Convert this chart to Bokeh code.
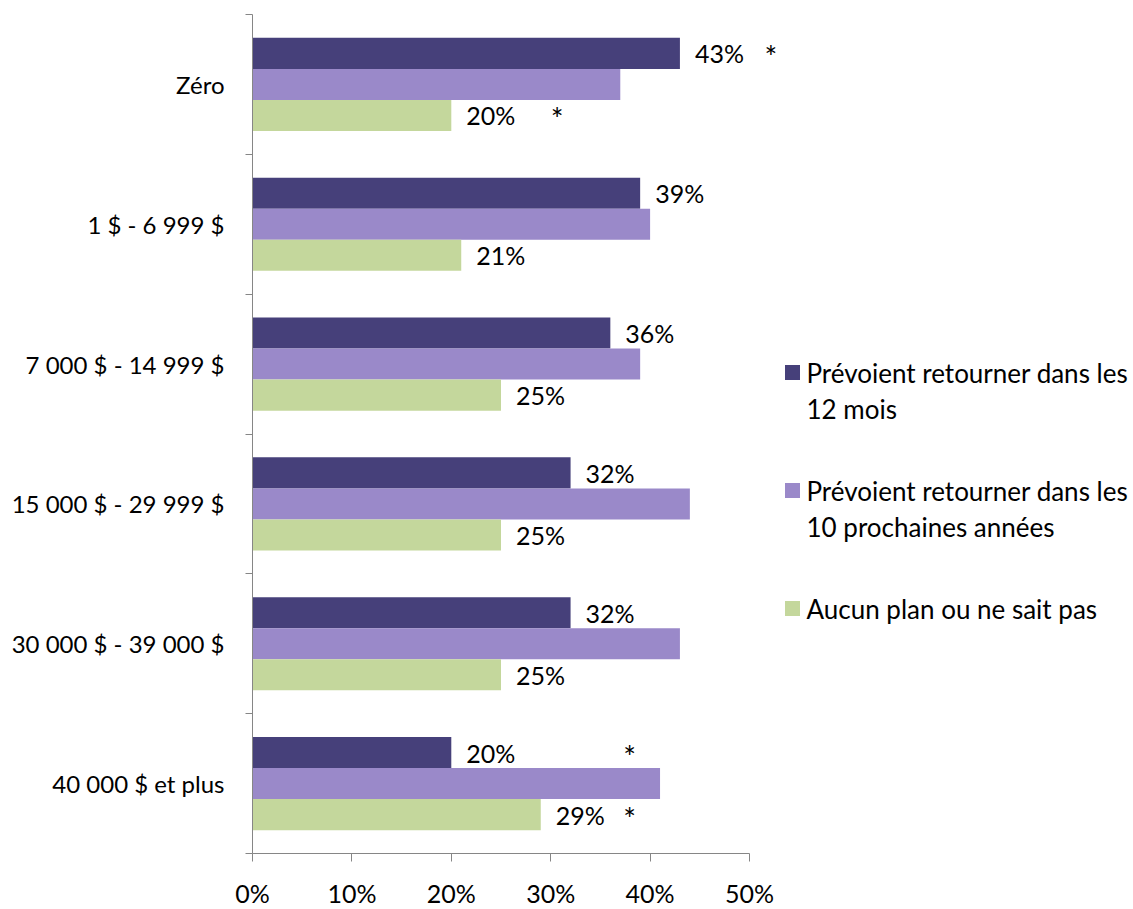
from bokeh.plotting import figure
from bokeh.models import FixedTicker, Range1d, ColumnDataSource
from bokeh.core.properties import value
from bokeh.embed import file_html
from bokeh.resources import INLINE

# ---------------- data ----------------
categories = ["Zéro", "1 $ - 6 999 $", "7 000 $ - 14 999 $", "15 000 $ - 29 999 $",
              "30 000 $ - 39 000 $", "40 000 $ et plus"]
series_names = ["Prévoient retourner dans les 12 mois",
                "Prévoient retourner dans les 10 prochaines années",
                "Aucun plan ou ne sait pas"]
legend_lines = [["Prévoient retourner dans les", "12 mois"],
                ["Prévoient retourner dans les", "10 prochaines années"],
                ["Aucun plan ou ne sait pas"]]
retour_12_mois = [43, 39, 36, 32, 32, 20]
retour_10_ans = [37, 40, 39, 44, 43, 41]
aucun_plan = [20, 21, 25, 25, 25, 29]
series_values = [retour_12_mois, retour_10_ans, aucun_plan]
series_labelled = [True, False, True]
# significance asterisks: category index, series index, x position (%)
ast_cat = [0, 0, 5, 5]
ast_series = [0, 2, 0, 2]
ast_x = [51.5, 30.0, 37.3, 37.3]
x_ticks = [0, 10, 20, 30, 40, 50]

# ---------------- style ----------------
colors = ["#46407A", "#9A89C9", "#C4D79C"]
FONT = "Lato"
FS = "25px"
LEG_FS = "26px"
CAT_FS = "24px"
AXIS_COLOR = "#868686"

n = len(categories)
PX_PER_PCT = 9.94          # pixels per percent
FRAME_W = 879
FRAME_H = 839
PX_PER_CAT = FRAME_H / n
FRAME_LEFT = 252
FRAME_TOP = 14
bar_h = 0.222
offsets = [bar_h, 0.0, -bar_h]

def px2x(px):
    return (px - FRAME_LEFT) / PX_PER_PCT

def px2y(py):
    return (n - 0.5) - (py - FRAME_TOP) / PX_PER_CAT

cat_y = [n - 1 - i for i in range(n)]

p = figure(frame_width=FRAME_W, frame_height=FRAME_H,
           x_range=Range1d(0, FRAME_W / PX_PER_PCT), y_range=Range1d(-0.5, n - 0.5),
           min_border_left=FRAME_LEFT, min_border_right=0, min_border_top=FRAME_TOP,
           min_border_bottom=48,
           output_backend="svg", toolbar_location=None)
p.outline_line_color = None
p.xgrid.visible = False
p.ygrid.visible = False
p.background_fill_color = "white"

for s, vals in enumerate(series_values):
    ys = [cy + offsets[s] for cy in cat_y]
    src = ColumnDataSource(dict(y=ys, v=vals, lab=[f"{v}%" for v in vals]))
    p.hbar(y="y", left=0, right="v", height=bar_h, source=src,
           fill_color=colors[s], line_color=None)
    if series_labelled[s]:
        p.text(x="v", y="y", text="lab", source=src, x_offset=15,
               text_align="left", text_baseline="middle",
               text_font=value(FONT), text_font_size=FS, text_color="black")

ast_y = [cat_y[c] + offsets[s] for c, s in zip(ast_cat, ast_series)]
p.text(x=ast_x, y=ast_y, text=["*"] * len(ast_x), text_align="left",
       text_baseline="middle", text_font=value(FONT), text_font_size="30px",
       text_color="black", y_offset=3)

# x axis
xa = p.xaxis[0]
xa.bounds = (0, 50)
xa.ticker = FixedTicker(ticks=x_ticks)
xa.major_label_overrides = {t: f"{t}%" for t in x_ticks}
xa.axis_line_color = AXIS_COLOR
xa.major_tick_line_color = AXIS_COLOR
xa.major_tick_out = 8
xa.major_tick_in = 0
xa.minor_tick_line_color = None
xa.major_label_standoff = 16
xa.major_label_text_font = FONT
xa.major_label_text_font_size = FS
xa.major_label_text_color = "black"

# y axis
ya = p.yaxis[0]
ya.ticker = FixedTicker(ticks=cat_y, minor_ticks=[k - 0.5 for k in range(n + 1)])
ya.major_label_overrides = {cat_y[i]: categories[i] for i in range(n)}
ya.axis_line_color = AXIS_COLOR
ya.major_tick_line_color = None
ya.major_tick_out = 0
ya.major_tick_in = 0
ya.minor_tick_line_color = AXIS_COLOR
ya.minor_tick_out = 7
ya.minor_tick_in = 0
ya.major_label_standoff = 21
ya.major_label_text_font = FONT
ya.major_label_text_font_size = CAT_FS
ya.major_label_text_color = "black"

# legend (manual, to match multi-line layout)
leg_first_line_py = [372, 490, 608]
LINE_H = 36
sq_x, sq_y, t_x, t_y, t_txt = [], [], [], [], []
for k, lines in enumerate(legend_lines):
    sq_x.append(px2x(792))
    sq_y.append(px2y(leg_first_line_py[k]))
    for j, line in enumerate(lines):
        t_x.append(px2x(806))
        t_y.append(px2y(leg_first_line_py[k] + j * LINE_H))
        t_txt.append(line)
p.scatter(x=sq_x, y=sq_y, marker="square", size=15, fill_color=colors, line_color=None)
p.text(x=t_x, y=t_y, text=t_txt, text_align="left", text_baseline="middle",
       text_font=value(FONT), text_font_size=LEG_FS, text_color="black")

open("out.html", "w").write(file_html(p, INLINE))
